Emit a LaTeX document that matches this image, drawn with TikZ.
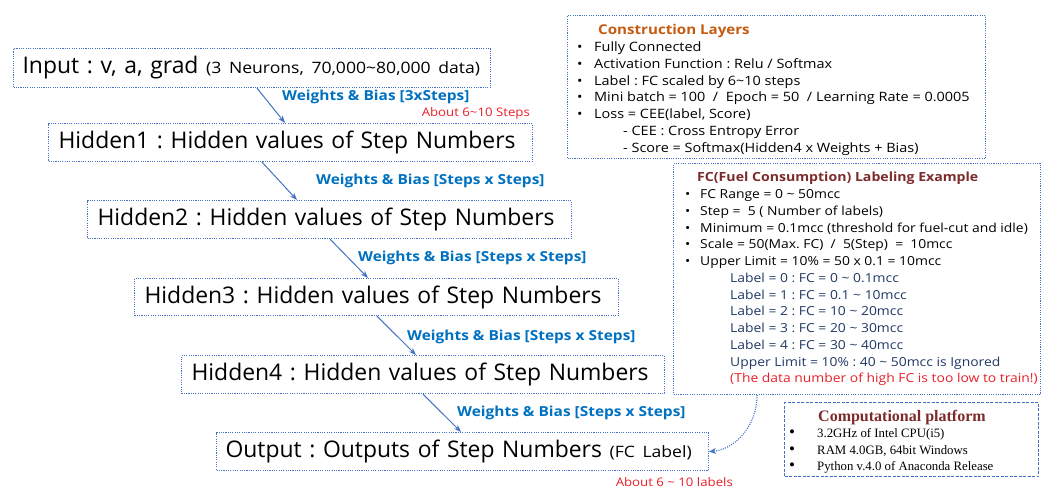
\documentclass[tikz,border=0pt]{standalone}
\usepackage{fontspec}
\setmainfont{Open Sans}
\newfontfamily\widefont{Open Sans}[FakeStretch=1.12]
\newfontfamily\platformfont{Liberation Serif}
\usetikzlibrary{arrows.meta,calc}
\frenchspacing

\definecolor{boxblue}{HTML}{4472C4}
\definecolor{wbblue}{HTML}{0070C0}
\definecolor{notered}{HTML}{E8202A}
\definecolor{titleorange}{HTML}{C55A11}
\definecolor{titlebrown}{HTML}{7B2B2B}
\definecolor{labelnavy}{HTML}{203864}

\newcommand\bul[1]{\makebox[#1][l]{\textbullet}}
\newcommand\bigbul[1]{\makebox[#1][l]{\fontsize{17}{16}\selectfont\textbullet}}
\newcommand\smallpart[1]{{\widefont\fontsize{15.7}{18}\selectfont #1}}

\tikzset{
  dotline/.style={draw=boxblue, line width=1.1pt, dash pattern=on 1.1pt off 1.2pt},
  layer/.style={dotline, inner sep=0pt, anchor=north west, align=left,
    font=\fontsize{22.9}{26}\selectfont},
  infobox/.style={dotline, inner sep=0pt, anchor=north west},
  platbox/.style={draw=boxblue, line width=1pt, dash pattern=on 3pt off 1.5pt,
    inner sep=0pt, anchor=north west},
  infotext/.style={anchor=north west, inner sep=0pt, align=left},
  wb/.style={anchor=west, inner sep=0pt, text=wbblue,
    font=\widefont\bfseries\fontsize{13.8}{16}\selectfont},
  note/.style={anchor=east, inner sep=0pt, text=notered,
    font=\widefont\fontsize{11.8}{14}\selectfont},
  arr/.style={draw=boxblue, line width=1pt, -{Stealth[length=7.5pt,width=5.5pt]}},
  link/.style={dotline, -{Stealth[length=7pt,width=6pt]}},
}

\begin{document}
\begin{tikzpicture}[x=1pt,y=-1pt]
\useasboundingbox (0,0) rectangle (1043,489);

% network layers
\node[layer, text width=477pt, minimum height=39pt] (in) at (13,48)
  {\mbox{\hspace*{9pt}Input : v, a, grad \smallpart{(3 Neurons, 70,000\textasciitilde80,000 data)}}};
\node[layer, text width=484pt, minimum height=38pt] (h1) at (48,123)
  {\mbox{\hspace*{10pt}Hidden1 : Hidden values of Step Numbers}};
\node[layer, text width=484pt, minimum height=38pt] (h2) at (87,200)
  {\mbox{\hspace*{10pt}Hidden2 : Hidden values of Step Numbers}};
\node[layer, text width=484pt, minimum height=37pt] (h3) at (134,278)
  {\mbox{\hspace*{10pt}Hidden3 : Hidden values of Step Numbers}};
\node[layer, text width=483pt, minimum height=38pt] (h4) at (181,355)
  {\mbox{\hspace*{10pt}Hidden4 : Hidden values of Step Numbers}};
\node[layer, text width=492pt, minimum height=38pt] (out) at (216,432)
  {\mbox{\hspace*{9pt}Output : Outputs of Step Numbers \smallpart{(FC Label)}}};

% weight connections
\draw[arr] ($(in.south west)+(244,0)$) -- ($(h1.north west)+(237,0)$);
\draw[arr] ($(h1.south west)+(214,0)$) -- ($(h2.north west)+(210,0)$);
\draw[arr] ($(h2.south west)+(243,0)$) -- ($(h3.north west)+(234,0)$);
\draw[arr] ($(h3.south west)+(243,0)$) -- ($(h4.north west)+(235,0)$);
\draw[arr] ($(h4.south west)+(242,0)$) -- ($(out.north west)+(245,0)$);

\node[wb] (w1) at (282,97) {Weights \& Bias [3xSteps]};
\node[note] (n1) at (530,113) {About 6\textasciitilde10 Steps};
\node[wb] (w2) at (316,181) {Weights \& Bias [Steps x Steps]};
\node[wb] (w3) at (358,258) {Weights \& Bias [Steps x Steps]};
\node[wb] (w4) at (407,337) {Weights \& Bias [Steps x Steps]};
\node[wb] (w5) at (457,413) {Weights \& Bias [Steps x Steps]};
\node[note] (n2) at (733,482) {About 6 \textasciitilde{} 10 labels};

% construction layers
\node[infobox, minimum width=418, minimum height=143] (cl) at (567,15) {};
\node[infotext, font=\widefont\fontsize{12.9}{16.85}\selectfont] (clt) at ($(cl.north west)+(10,9)$) {%
  \hspace*{21pt}{\color{titleorange}\bfseries\fontsize{13.5}{16.85}\selectfont Construction Layers}\\
  \bul{17pt}Fully Connected\\
  \bul{17pt}Activation Function : Relu / Softmax\\
  \bul{17pt}Label : FC scaled by 6\textasciitilde10 steps\\
  \bul{17pt}Mini batch = 100 ~/~ Epoch = 50 ~/ Learning Rate = 0.0005\\
  \bul{17pt}Loss = CEE(label, Score)\\
  \hspace*{46pt}- CEE : Cross Entropy Error\\
  \hspace*{46pt}- Score = Softmax(Hidden4 x Weights + Bias)};

% labelling example
\node[infobox, minimum width=367, minimum height=231] (fc) at (673,163) {};
\node[infotext, font=\widefont\fontsize{12.4}{16.75}\selectfont] (fct) at ($(fc.north west)+(12,9)$) {%
  \hspace*{12pt}{\color{titlebrown}\bfseries\fontsize{12.6}{16.75}\selectfont FC(Fuel Consumption) Labeling Example}\\
  \bul{15pt}FC Range = 0 \textasciitilde{} 50mcc\\
  \bul{15pt}Step = ~5 ( Number of labels)\\
  \bul{15pt}Minimum = 0.1mcc (threshold for fuel-cut and idle)\\
  \bul{15pt}Scale = 50(Max. FC) ~/~ 5(Step) ~= ~10mcc\\
  \bul{15pt}Upper Limit = 10\% = 50 x 0.1 = 10mcc\\
  \hspace*{45pt}{\color{labelnavy}Label = 0 : FC = 0 \textasciitilde{} 0.1mcc}\\
  \hspace*{45pt}{\color{labelnavy}Label = 1 : FC = 0.1 \textasciitilde{} 10mcc}\\
  \hspace*{45pt}{\color{labelnavy}Label = 2 : FC = 10 \textasciitilde{} 20mcc}\\
  \hspace*{45pt}{\color{labelnavy}Label = 3 : FC = 20 \textasciitilde{} 30mcc}\\
  \hspace*{45pt}{\color{labelnavy}Label = 4 : FC = 30 \textasciitilde{} 40mcc}\\
  \hspace*{45pt}{\color{labelnavy}Upper Limit = 10\% : 40 \textasciitilde{} 50mcc is Ignored}\\
  \hspace*{45pt}{\color{notered}(The data number of high FC is too low to train!)}};

% platform
\node[platbox, minimum width=254, minimum height=74] (cp) at (784,402) {};
\node[infotext, font=\platformfont\fontsize{12.8}{16.3}\selectfont] (cpt) at ($(cp.north west)+(5,8)$) {%
  \hspace*{29pt}{\color{titlebrown}\bfseries\fontsize{16}{16.3}\selectfont Computational platform}\\
  \bigbul{28pt}3.2GHz of Intel CPU(i5)\\
  \bigbul{28pt}RAM 4.0GB, 64bit Windows\\
  \bigbul{28pt}Python v.4.0 of Anaconda Release};

% labels feed the output layer
\draw[link] ($(fc.south west)+(84,0)$) .. controls ($(fc.south west)+(84,32)$) and ($(out.east)+(25,-2)$) .. (out.east);
\end{tikzpicture}
\end{document}
